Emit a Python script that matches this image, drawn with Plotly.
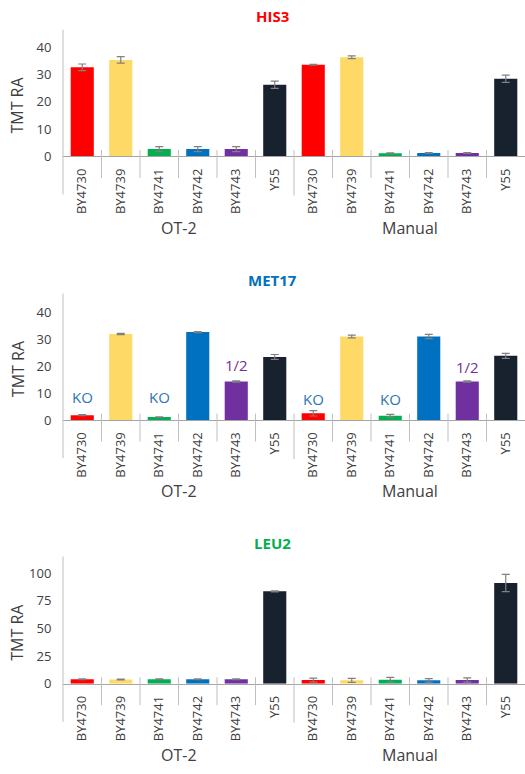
import plotly.graph_objects as go

# ---- data -------------------------------------------------------------
strains = ["BY4730", "BY4739", "BY4741", "BY4742", "BY4743", "Y55"]
methods = ["OT-2", "Manual"]
strain_colors = ["#ff0000", "#ffd966", "#00b050", "#0070c0", "#7030a0", "#18212e"]

genes = ["HIS3", "MET17", "LEU2"]
gene_colors = ["#ff0000", "#0070c0", "#00b050"]

# TMT relative abundance, OT-2 strains followed by Manual strains
his3_mean = [32.7, 35.4, 2.7, 2.7, 2.7, 26.3, 33.6, 36.4, 1.2, 1.3, 1.3, 28.5]
his3_err = [1.2, 1.2, 0.9, 0.9, 0.9, 1.3, 0.15, 0.5, 0.15, 0.15, 0.15, 1.3]

met17_mean = [1.8, 31.9, 1.1, 32.6, 14.3, 23.4, 2.5, 31.0, 1.6, 31.0, 14.3, 23.8]
met17_err = [0.2, 0.2, 0.1, 0.2, 0.2, 0.9, 1.0, 0.5, 0.5, 0.8, 0.2, 0.9]

leu2_mean = [4.0, 3.8, 4.0, 4.0, 4.0, 83.5, 3.2, 3.0, 3.5, 3.0, 3.3, 91.0]
leu2_err = [0.4, 0.4, 0.4, 0.4, 0.4, 0.5, 1.8, 1.8, 2.2, 1.6, 2.0, 7.8]

y_ticks = [[0, 10, 20, 30, 40], [0, 10, 20, 30, 40], [0, 25, 50, 75, 100]]
y_max = [46.5, 46.9, 115]

# genotype notes above the MET17 bars: (category index, text)
met17_notes = [(0, "KO"), (2, "KO"), (4, "1/2"), (6, "KO"), (8, "KO"), (10, "1/2")]

panels = [(his3_mean, his3_err), (met17_mean, met17_err), (leu2_mean, leu2_err)]

# ---- layout constants (pixels) ----------------------------------------
W, H = 525, 774
zero_px = [158.3, 425.0, 691.7]
top_px = [30.0, 297.0, 563.0]
x_left_px = 63.0
axis_grey = "#bfbfbf"
text_grey = "#404040"
FONT = "Open Sans"


def py(px):
    return 1 - px / H


categories = [s for _ in methods for s in strains]
n_cat = len(categories)
xs = list(range(n_cat))
colors = strain_colors * len(methods)

fig = go.Figure()
shapes = []
annotations = []

for i, (mean, err) in enumerate(panels):
    k = "" if i == 0 else str(i + 1)
    xa, ya = "x" + k, "y" + k
    fig.add_trace(go.Bar(
        x=xs, y=mean, xaxis=xa, yaxis=ya,
        marker=dict(color=colors, line=dict(width=0)),
        width=0.6,
        error_y=dict(type="data", array=err, visible=True,
                     color="#808080", thickness=1.2, width=4),
        showlegend=False, hoverinfo="x+y",
    ))

    z, t = zero_px[i], top_px[i]
    fig.update_layout(**{
        "xaxis" + k: dict(
            domain=[x_left_px / W, 1], anchor=ya,
            range=[-0.5, n_cat - 0.5],
            tickmode="array", tickvals=xs, ticktext=categories,
            tickangle=-90, tickfont=dict(family=FONT, size=13, color=text_grey),
            ticks="outside", ticklen=6, tickcolor="rgba(0,0,0,0)",
            showline=True, linecolor="#a6a6a6", linewidth=1,
            showgrid=False, zeroline=False, fixedrange=True,
        ),
        "yaxis" + k: dict(
            domain=[py(z), py(t)], anchor=xa,
            range=[0, y_max[i]],
            tickmode="array", tickvals=y_ticks[i],
            tickfont=dict(family=FONT, size=13, color=text_grey),
            ticks="outside", ticklen=8, tickcolor="rgba(0,0,0,0)",
            showline=False, showgrid=False, zeroline=False, fixedrange=True,
        ),
    })

    xd = xa + " domain"
    # value axis line, running down past the category labels
    shapes.append(dict(type="line", xref=xd, yref="paper",
                       x0=0, x1=0, y0=py(t), y1=py(z + 38.5),
                       line=dict(color=axis_grey, width=1)))
    # separators between categories, longer one between method groups
    for b in range(1, n_cat):
        bottom = z + 39.5 if b == len(strains) else z + 21.7
        shapes.append(dict(type="line", xref=xd, yref="paper",
                           x0=b / n_cat, x1=b / n_cat,
                           y0=py(z - 6.5), y1=py(bottom),
                           line=dict(color=axis_grey, width=1)))

    # panel title
    annotations.append(dict(text="<b>%s</b>" % genes[i], xref="paper", yref="paper",
                            x=272 / W, y=py(t - 14), showarrow=False,
                            xanchor="center", yanchor="middle",
                            font=dict(family=FONT, size=15, color=gene_colors[i])))
    # value axis title
    annotations.append(dict(text="TMT RA", xref="paper", yref="paper",
                            x=17.5 / W, y=py(z - 52), textangle=-90, showarrow=False,
                            xanchor="center", yanchor="middle",
                            font=dict(family=FONT, size=16, color=text_grey)))
    # method group labels
    for g, m in enumerate(methods):
        centre = g * len(strains) + (len(strains) - 1) / 2
        annotations.append(dict(text=m, xref=xa, yref="paper",
                                x=centre, y=py(z + 72), showarrow=False,
                                xanchor="center", yanchor="middle",
                                font=dict(family=FONT, size=16, color=text_grey)))

# genotype notes on the MET17 panel
for idx, txt in met17_notes:
    is_half = txt == "1/2"
    manual = idx >= len(strains)
    if is_half:
        yv = 19.6 if manual else 20.4
        col = "#7030a0"
    else:
        yv = 7.9 if manual else 8.5
        col = "#2e75b6"
    annotations.append(dict(text=txt, xref="x2", yref="y2", x=idx, y=yv,
                            showarrow=False, xanchor="center", yanchor="middle",
                            font=dict(family=FONT, size=15, color=col)))

fig.update_layout(
    width=W, height=H,
    margin=dict(l=0, r=0, t=0, b=0),
    paper_bgcolor="white", plot_bgcolor="white",
    bargap=0.4,
    shapes=shapes, annotations=annotations,
    font=dict(family=FONT),
)

fig.write_html("out.html")
